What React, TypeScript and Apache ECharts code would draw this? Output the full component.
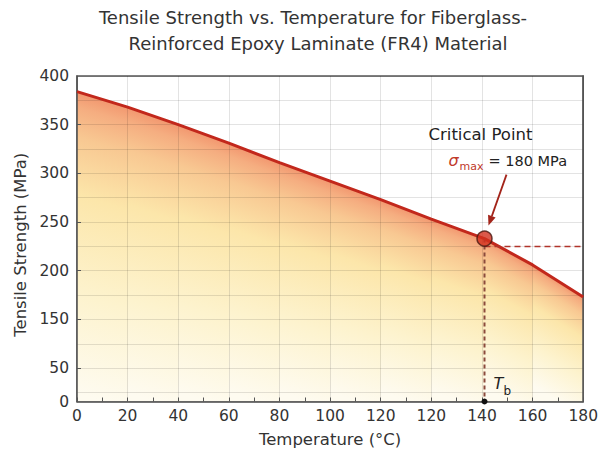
import React, { useEffect, useRef } from "react";
import * as echarts from "echarts";

// ---- data (axis units: x axis runs 0..200 in steps of 20, labelled as in the source) ----
const temps = [0, 20, 40, 60, 80, 100, 120, 140, 161, 180, 200];
const strength = [384, 368, 350, 331, 311, 292, 273, 253, 233, 206, 173];
const xTickLabels = ["0", "20", "40", "60", "80", "100", "120", "120", "140", "160", "180"];
const yTickValues = [400, 350, 300, 250, 200, 150, 100, 65.7];
const yTickLabels = ["400", "350", "300", "250", "200", "150", "50", "0"];
const critTemp = 161;
const critStrength = 233;
const critGuide = 225;
const titleLines = [
  "Tensile Strength vs. Temperature for Fiberglass-",
  "Reinforced Epoxy Laminate (FR4) Material",
];
const critTitle = "Critical Point";
const critValueText = "= 180 MPa";

// ---- layout constants ----
const X_MIN = 0;
const X_MAX = 200;
const X_STEP = 20;
const Y_MIN = 65.7;
const Y_MAX = 400;
const GRID_STEP = 25;
const FONT = "'DejaVu Sans', 'Noto Sans', sans-serif";
const AXIS_COLOR = "#555";
const GRID_COLOR = "rgba(0,0,0,0.11)";
const TEXT_COLOR = "#333";

const areaStops = [
  { offset: 0, color: "#f2976f" },
  { offset: 0.05, color: "#f5ad80" },
  { offset: 0.15, color: "#f8c892" },
  { offset: 0.34, color: "#fce6aa" },
  { offset: 0.67, color: "#fdf3ce" },
  { offset: 1, color: "#fefbf0" },
];

export default function App() {
  const ref = useRef<HTMLDivElement>(null);

  useEffect(() => {
    if (!ref.current) return;
    const chart = echarts.init(ref.current, null, { renderer: "svg" });
    const n = temps.length;
    const lineData = temps.map((t, i) => [t, strength[i]]);

    const option: any = {
      animation: false,
      backgroundColor: "#ffffff",
      textStyle: { fontFamily: FONT },
      grid: {
        left: 77,
        right: 14,
        top: 76,
        bottom: 51.5,
        show: true,
        borderColor: AXIS_COLOR,
        borderWidth: 1.5,
        backgroundColor: "transparent",
      },
      xAxis: {
        type: "value",
        min: X_MIN,
        max: X_MAX,
        interval: X_STEP,
        z: 3,
        axisLine: { onZero: false, lineStyle: { color: AXIS_COLOR, width: 1.5 } },
        axisTick: { show: true, inside: true, length: 4, lineStyle: { color: AXIS_COLOR } },
        minorTick: { show: true, splitNumber: 2, length: 4, lineStyle: { color: AXIS_COLOR } },
        axisLabel: {
          margin: 6,
          fontSize: 15.5,
          color: TEXT_COLOR,
          fontFamily: FONT,
          formatter: (v: number) => xTickLabels[Math.round((v - X_MIN) / X_STEP)] ?? "",
        },
        splitLine: { show: true, lineStyle: { color: GRID_COLOR, width: 1 } },
        name: "Temperature (°C)",
        nameLocation: "middle",
        nameGap: 29,
        nameTextStyle: { fontSize: 16.5, color: TEXT_COLOR, fontFamily: FONT },
      },
      yAxis: [
        {
          type: "value",
          min: Y_MIN,
          max: Y_MAX,
          z: 3,
          axisLine: { show: true, onZero: false, lineStyle: { color: AXIS_COLOR, width: 1.5 } },
          axisTick: {
            show: true,
            inside: true,
            length: 4,
            customValues: yTickValues.slice(1, -1),
            lineStyle: { color: AXIS_COLOR },
          },
          axisLabel: {
            customValues: yTickValues,
            margin: 8,
            fontSize: 15.5,
            color: TEXT_COLOR,
            fontFamily: FONT,
            formatter: (v: number) => {
              const i = yTickValues.findIndex((t) => Math.abs(t - v) < 0.01);
              return i >= 0 ? yTickLabels[i] : "";
            },
          },
          splitLine: { show: false },
          name: "Tensile Strength (MPa)",
          nameLocation: "middle",
          nameGap: 47,
          nameTextStyle: { fontSize: 16.5, color: TEXT_COLOR, fontFamily: FONT, padding: [0, 12, 0, 0] },
        },
        {
          type: "value",
          inverse: true,
          min: 0,
          max: (Y_MAX - Y_MIN) / GRID_STEP,
          interval: 1,
          position: "right",
          z: 3,
          axisLine: { show: true, onZero: false, lineStyle: { color: AXIS_COLOR, width: 1.5 } },
          axisTick: { show: false },
          axisLabel: { show: false },
          splitLine: { show: true, lineStyle: { color: GRID_COLOR, width: 1 } },
        },
      ],
      series: [
        {
          type: "custom",
          xAxisIndex: 0,
          yAxisIndex: 0,
          z: 1,
          silent: true,
          data: lineData,
          renderItem: (params: any, api: any) => {
            const i = params.dataIndex;
            if (i >= n - 1) return null;
            const p1 = api.coord([temps[i], strength[i]]);
            const p2 = api.coord([temps[i + 1], strength[i + 1]]);
            const yb = api.coord([temps[i], Y_MIN])[1];
            const ext = i < n - 2 ? 0.8 : 0;
            const dx = p2[0] - p1[0];
            const dy = p2[1] - p1[1];
            const len = Math.hypot(dx, dy);
            const nx = -dy / len;
            const ny = dx / len;
            const mx = (p1[0] + p2[0]) / 2;
            const my = (p1[1] + p2[1]) / 2;
            const L = (yb - my) * (dx / len);
            const grad = new echarts.graphic.LinearGradient(
              mx,
              my,
              mx + nx * L,
              my + ny * L,
              areaStops,
              true
            );
            return {
              type: "polygon",
              shape: {
                points: [
                  [p1[0], p1[1]],
                  [p2[0] + ext, p2[1] + (ext * dy) / dx],
                  [p2[0] + ext, yb],
                  [p1[0], yb],
                ],
              },
              style: { fill: grad, stroke: null, lineWidth: 0 },
            };
          },
        },
        {
          type: "line",
          xAxisIndex: 0,
          yAxisIndex: 0,
          z: 4,
          data: lineData,
          symbol: "none",
          lineStyle: { color: "#c2281c", width: 3 },
        },
        {
          type: "line",
          xAxisIndex: 0,
          yAxisIndex: 0,
          z: 4,
          data: [
            [critTemp, critGuide],
            [X_MAX, critGuide],
          ],
          symbol: "none",
          lineStyle: { color: "#b0342b", width: 1.5, type: [6, 4] },
        },
        {
          type: "line",
          xAxisIndex: 0,
          yAxisIndex: 0,
          z: 4,
          data: [
            [critTemp, critStrength],
            [critTemp, Y_MIN],
          ],
          symbol: "none",
          lineStyle: { color: "#8a4a3c", width: 2, type: [4, 3] },
        },
        {
          type: "scatter",
          xAxisIndex: 0,
          yAxisIndex: 0,
          z: 6,
          data: [[critTemp, critStrength]],
          symbol: "circle",
          symbolSize: 15,
          itemStyle: { color: "#d32f1e", borderColor: "#4a1810", borderWidth: 1.5 },
        },
      ],
    };
    chart.setOption(option);

    const P = chart.convertToPixel({ seriesIndex: 4 }, [critTemp, critStrength]) as number[];
    const B = chart.convertToPixel({ seriesIndex: 4 }, [critTemp, Y_MIN]) as number[];
    const S = [P[0] + 22, P[1] - 64];
    const T = [P[0] + 4, P[1] - 13];
    const ux = T[0] - S[0];
    const uy = T[1] - S[1];
    const ul = Math.hypot(ux, uy);
    const u = [ux / ul, uy / ul];
    const w = [-u[1], u[0]];
    const headLen = 10;
    const headW = 4;
    const base = [T[0] - u[0] * headLen, T[1] - u[1] * headLen];
    const arrowColor = "#a3241a";
    const red = "#c0392b";
    const titleX = [313, 318];

    chart.setOption({
      graphic: [
        ...titleLines.map((t, i) => ({
          type: "text",
          x: titleX[i],
          y: 17 + i * 26,
          z: 100,
          style: {
            text: t,
            fill: TEXT_COLOR,
            fontSize: 18,
            fontFamily: FONT,
            align: "center",
            verticalAlign: "middle",
          },
        })),
        {
          type: "text",
          x: P[0] - 56,
          y: P[1] - 104,
          z: 100,
          style: { text: critTitle, fill: "#222", fontSize: 16.5, fontFamily: FONT, align: "left", verticalAlign: "middle" },
        },
        {
          type: "text",
          x: P[0] - 36,
          y: P[1] - 78,
          z: 100,
          style: { text: "σ", fill: red, fontSize: 16, fontStyle: "italic", fontFamily: FONT, align: "left", verticalAlign: "middle" },
        },
        {
          type: "text",
          x: P[0] - 25,
          y: P[1] - 72,
          z: 100,
          style: { text: "max", fill: red, fontSize: 11, fontFamily: FONT, align: "left", verticalAlign: "middle" },
        },
        {
          type: "text",
          x: P[0] + 4,
          y: P[1] - 78,
          z: 100,
          style: { text: critValueText, fill: "#222", fontSize: 14.5, fontFamily: FONT, align: "left", verticalAlign: "middle" },
        },
        {
          type: "line",
          z: 100,
          shape: { x1: S[0], y1: S[1], x2: base[0], y2: base[1] },
          style: { stroke: arrowColor, lineWidth: 1.8 },
        },
        {
          type: "polygon",
          z: 100,
          shape: {
            points: [
              [T[0], T[1]],
              [base[0] + w[0] * headW, base[1] + w[1] * headW],
              [base[0] - w[0] * headW, base[1] - w[1] * headW],
            ],
          },
          style: { fill: arrowColor },
        },
        {
          type: "text",
          x: P[0] + 9,
          y: B[1] - 18,
          z: 100,
          style: { text: "T", fill: "#222", fontSize: 16, fontStyle: "italic", fontFamily: FONT, align: "left", verticalAlign: "middle" },
        },
        {
          type: "text",
          x: P[0] + 19,
          y: B[1] - 11,
          z: 100,
          style: { text: "b", fill: "#222", fontSize: 12, fontFamily: FONT, align: "left", verticalAlign: "middle" },
        },
        {
          type: "circle",
          z: 100,
          shape: { cx: B[0], cy: B[1], r: 3 },
          style: { fill: "#111" },
        },
      ],
    });

    return () => chart.dispose();
  }, []);

  return (
    <div
      ref={ref}
      style={{ position: "fixed", left: 0, top: 0, width: 601, height: 453 }}
    />
  );
}
